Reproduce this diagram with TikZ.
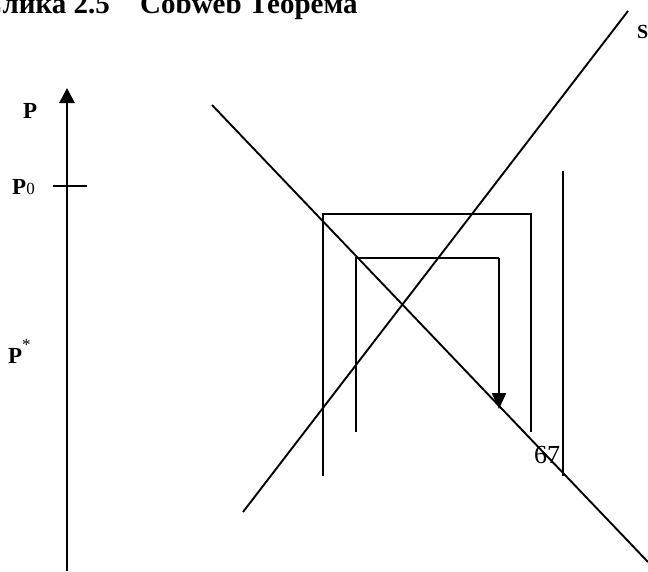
\documentclass[tikz,border=0pt]{standalone}
\usepackage{fontspec}
\setmainfont{Liberation Serif}
\usetikzlibrary{arrows.meta}
\begin{document}
\begin{tikzpicture}[x=1pt,y=-1pt,
  ln/.style={line width=1.9pt, line cap=butt},
  axisln/.style={line width=2.8pt},
  lbl/.style={font=\fontsize{23}{23}\selectfont\bfseries, inner sep=0pt},
  ttl/.style={font=\fontsize{29}{29}\selectfont\bfseries, inner sep=0pt}]
\useasboundingbox (0,0) rectangle (648,571);
\clip (0,0) rectangle (648,571);
% title (cut off at top)
\node[ttl, anchor=base east] (t1) at (110,13) {Слика 2.5};
\node[ttl, anchor=base west] (t2) at (140,13) {Cobweb Теорема};
% axis
\coordinate (ab) at (67,571);
\coordinate (at) at (67,88);
\draw[axisln, -{Triangle[width=15pt,length=15pt]}] (ab) -- (at);
\coordinate (tl) at (53,186);
\coordinate (tr) at (87,186);
\draw[ln] (tl) -- (tr);
\node[lbl, anchor=base west] (p) at (23,118) {P};
\node[lbl, anchor=base west] (p0) at (12,194) {P\textmd{\fontsize{17}{17}\selectfont 0}};
\node[lbl, anchor=base west] (ps) at (8,363) {P\raisebox{13pt}{\textmd{\fontsize{17}{17}\selectfont *}}};
% demand line
\coordinate (d1) at (212,105);
\coordinate (d2) at (648,562);
\draw[ln] (d1) -- (d2);
% supply line
\coordinate (s1) at (243,512);
\coordinate (s2) at (628,11);
\draw[ln] (s1) -- (s2);
\node[font=\fontsize{20}{20}\selectfont\bfseries, inner sep=0pt, anchor=base west] (S) at (637,38) {S};
% outer bracket
\coordinate (o1) at (323,476);
\coordinate (o2) at (323,214);
\coordinate (o3) at (531,214);
\coordinate (o4) at (531,432);
\draw[ln] (o1) -- (o2) -- (o3) -- (o4);
% inner bracket with arrow
\coordinate (i1) at (356,432);
\coordinate (i2) at (356,258);
\coordinate (i3) at (499,258);
\coordinate (i4) at (499,409);
\draw[ln] (i1) -- (i2) -- (i3);
\draw[line width=2.2pt, -{Triangle[width=14pt,length=16pt]}] (i3) -- (i4);
% far right line
\coordinate (r1) at (563,171);
\coordinate (r2) at (563,476);
\draw[ln] (r1) -- (r2);
\node[font=\fontsize{26}{26}\selectfont, inner sep=0pt, anchor=base west] (n67) at (534,463) {67};
\end{tikzpicture}
\end{document}
